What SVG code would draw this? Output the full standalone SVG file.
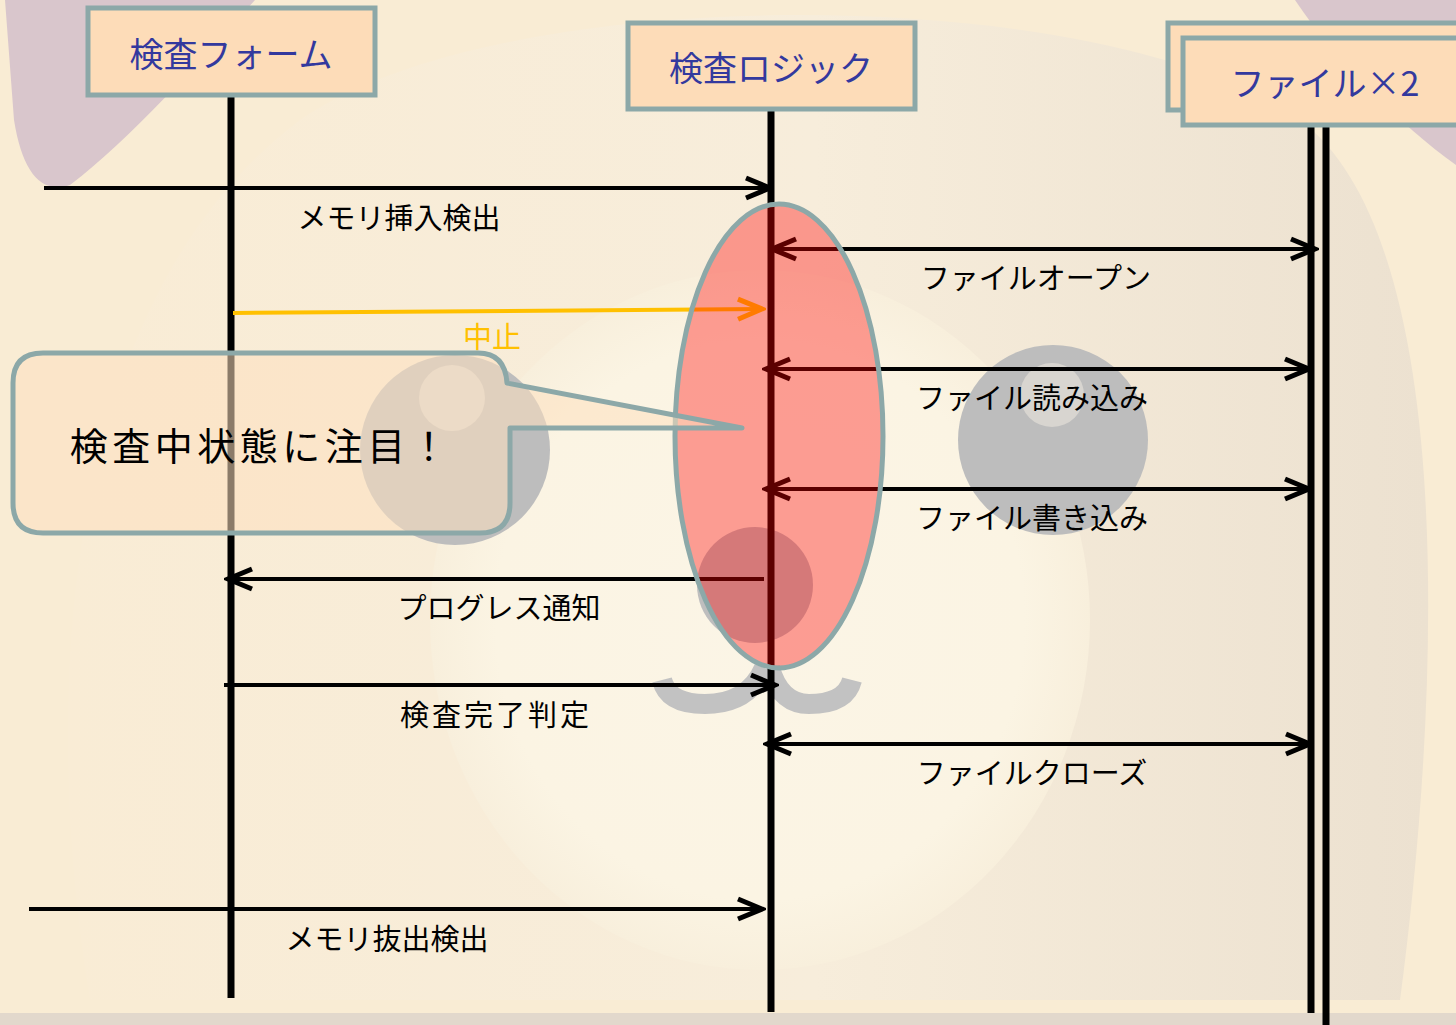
<svg xmlns="http://www.w3.org/2000/svg" width="1456" height="1025" viewBox="0 0 1456 1025">
  <defs>
    <style>
      .box { fill: #FDDCB8; stroke: #8CA8A8; stroke-width: 5; }
      .boxText { font-family: "Noto Sans CJK JP", "Noto Sans", sans-serif; font-size: 34px; fill: #33399E; text-anchor: middle; }
      .life { stroke: #000; stroke-width: 7; fill: none; }
      .msg { stroke: #000; stroke-width: 4; fill: none; }
      .lbl { font-family: "Noto Sans CJK JP", "Noto Sans", sans-serif; font-size: 29px; fill: #000; text-anchor: middle; }
      .eye { fill: #BDBDBD; }
      .glint { fill: #D8D5D0; }
    </style>
    <marker id="head" viewBox="-28 -14 32 28" refX="0" refY="0" markerWidth="32" markerHeight="28" markerUnits="userSpaceOnUse" orient="auto-start-reverse">
      <path d="M -24,-10 L 0,0 L -24,10" fill="none" stroke="#000" stroke-width="5" stroke-linejoin="miter"/>
    </marker>
    <marker id="headOrange" viewBox="-28 -14 32 28" refX="0" refY="0" markerWidth="32" markerHeight="28" markerUnits="userSpaceOnUse" orient="auto">
      <path d="M -24,-10 L 0,0 L -24,10" fill="none" stroke="#FFC000" stroke-width="5"/>
    </marker>
    <radialGradient id="muzzle" cx="0.5" cy="0.5" r="0.5">
      <stop offset="0" stop-color="#FBF5E6"/>
      <stop offset="0.8" stop-color="#FBF4E3"/>
      <stop offset="1" stop-color="#F8EFDC"/>
    </radialGradient>
    <linearGradient id="headShade" x1="0" y1="0" x2="1" y2="0">
      <stop offset="0" stop-color="#F9ECD5"/>
      <stop offset="0.55" stop-color="#F7EDDB"/>
      <stop offset="1" stop-color="#ECE1D0"/>
    </linearGradient>
  </defs>

  <!-- faded mascot backdrop -->
  <g id="backdrop">
    <rect x="0" y="0" width="1456" height="1025" fill="#F9ECD4"/>
    <path d="M 90,1000 C 40,700 60,300 300,120 C 500,-20 1100,-20 1300,120 C 1460,240 1440,700 1400,1000 Z" fill="url(#headShade)"/>
    <ellipse cx="760" cy="620" rx="330" ry="350" fill="url(#muzzle)"/>
    <path d="M 5,0 H 255 C 200,60 130,140 70,185 C 40,195 22,170 14,120 Z" fill="#D9C6CC"/>
    <path d="M 1295,0 H 1456 V 165 C 1400,125 1335,60 1295,0 Z" fill="#D9C6CC"/>
    <circle class="eye" cx="455" cy="450" r="95"/>
    <circle class="glint" cx="452" cy="398" r="33"/>
    <circle class="eye" cx="1053" cy="440" r="95"/>
    <circle class="glint" cx="1052" cy="395" r="32"/>
    <circle cx="755" cy="585" r="58" fill="#BEBEBE"/>
    <path d="M 662,680 Q 668,704 705,704 Q 748,704 764,668 M 852,680 Q 846,704 809,704 Q 780,704 770,668" fill="none" stroke="#C2C2C2" stroke-width="20"/>
    <rect x="0" y="1013" width="1456" height="12" fill="#E2D8CC"/>
  </g>

  <!-- lifelines -->
  <g id="lifelines">
    <line class="life" x1="231" y1="95" x2="231" y2="998"/>
    <line class="life" x1="771" y1="109" x2="771" y2="1012"/>
    <line class="life" x1="1311" y1="125" x2="1311" y2="1013" stroke-width="6"/>
    <line class="life" x1="1326" y1="125" x2="1326" y2="1025" stroke-width="6"/>
  </g>

  <!-- participants -->
  <g id="node-form">
    <rect class="box" x="88" y="8" width="287" height="87"/>
    <text class="boxText" x="231" y="67">検査フォーム</text>
  </g>
  <g id="node-logic">
    <rect class="box" x="628" y="23" width="287" height="86"/>
    <text class="boxText" x="771" y="81">検査ロジック</text>
  </g>
  <g id="node-files">
    <rect class="box" x="1168" y="23" width="300" height="87"/>
    <rect class="box" x="1183" y="38" width="290" height="87"/>
    <text class="boxText" x="1325" y="96">ファイル×2</text>
  </g>

  <!-- messages -->
  <g id="connectors">
    <line class="msg" x1="44" y1="188" x2="770" y2="188" marker-end="url(#head)"/>
    <line class="msg" x1="772" y1="249" x2="1315" y2="249" marker-start="url(#head)" marker-end="url(#head)"/>
    <line x1="233" y1="313" x2="762" y2="309" stroke="#FFC000" stroke-width="4" marker-end="url(#headOrange)"/>
    <line class="msg" x1="766" y1="369" x2="1309" y2="369" marker-start="url(#head)" marker-end="url(#head)"/>
    <line class="msg" x1="766" y1="489" x2="1309" y2="489" marker-start="url(#head)" marker-end="url(#head)"/>
    <line class="msg" x1="764" y1="579" x2="228" y2="579" marker-end="url(#head)"/>
    <line class="msg" x1="224" y1="685" x2="775" y2="685" marker-end="url(#head)"/>
    <line class="msg" x1="767" y1="744" x2="1310" y2="744" marker-start="url(#head)" marker-end="url(#head)"/>
    <line class="msg" x1="29" y1="909" x2="762" y2="909" marker-end="url(#head)"/>
  </g>

  <!-- message labels -->
  <g id="labels">
    <text class="lbl" x="399" y="229">メモリ挿入検出</text>
    <text class="lbl" x="1036" y="289">ファイルオープン</text>
    <text class="lbl" x="492" y="348" style="fill:#FFC000">中止</text>
    <text class="lbl" x="1032" y="409">ファイル読み込み</text>
    <text class="lbl" x="1032" y="529">ファイル書き込み</text>
    <text class="lbl" x="499" y="619">プログレス通知</text>
    <text class="lbl" x="496" y="726" letter-spacing="3">検査完了判定</text>
    <text class="lbl" x="1032" y="784">ファイルクローズ</text>
    <text class="lbl" x="387" y="950">メモリ抜出検出</text>
  </g>

  <!-- active-state highlight -->
  <g id="highlight">
    <ellipse cx="779" cy="436" rx="104" ry="232" fill="#FF0000" fill-opacity="0.36" stroke="#8CA8A8" stroke-width="5"/>
  </g>

  <!-- callout -->
  <g id="callout">
    <path d="M 43,353 H 478 Q 505,353 507,383 L 742,428 L 510,428 V 503 Q 510,533 480,533 H 43 Q 13,533 13,503 V 383 Q 13,353 43,353 Z" fill="#FDE0C0" fill-opacity="0.55" stroke="#8CA8A8" stroke-width="5" stroke-linejoin="round"/>
    <text x="261" y="460" font-family="'Noto Sans CJK JP', 'Noto Sans', sans-serif" font-size="38" letter-spacing="4.5" text-anchor="middle" fill="#000">検査中状態に注目！</text>
  </g>
</svg>
